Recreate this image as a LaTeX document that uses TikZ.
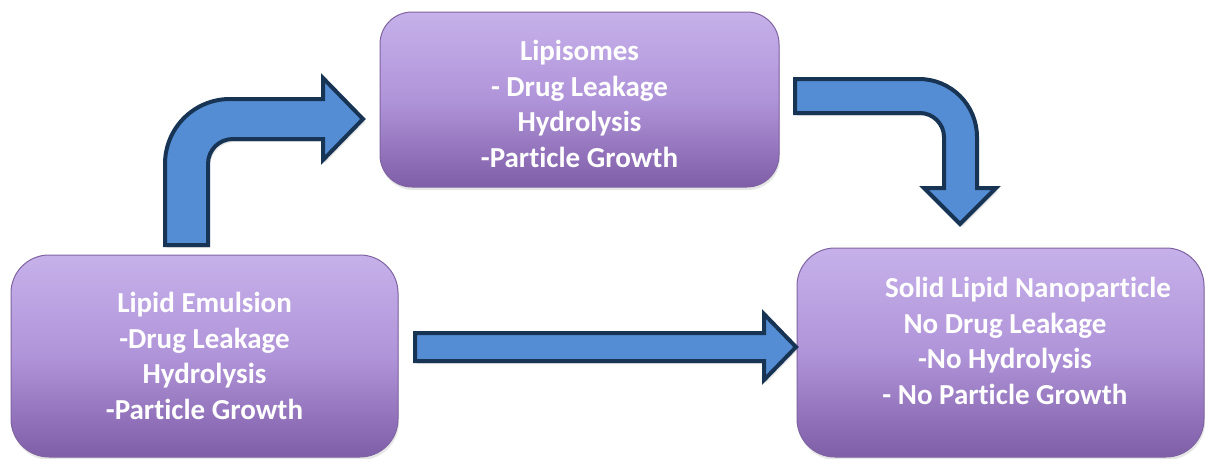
\documentclass[tikz,border=0pt]{standalone}
\usepackage{fontspec}
\setmainfont{Carlito}[Ligatures=NoCommon]
\usepackage{tikz}
\usepackage{xcolor}
\usetikzlibrary{shadows}

\definecolor{boxtop}{RGB}{198,177,234}
\definecolor{boxmid}{RGB}{176,148,217}
\definecolor{boxbot}{RGB}{127,94,168}
\definecolor{boxline}{RGB}{128,100,162}
\definecolor{arrowfill}{RGB}{84,141,212}
\definecolor{arrowline}{RGB}{24,52,84}

\begin{document}
\begin{tikzpicture}[x=1pt,y=-1pt]

\tikzset{
    box/.style = {
    draw=boxline,
    line width=1pt,
    top color=boxtop, bottom color=boxbot, middle color=boxmid,
    drop shadow={opacity=0.2, shadow xshift=1pt, shadow yshift=-3pt}
    }
}

\tikzstyle{boxtext}=[text=white, align=center, font=\bfseries\fontsize{29}{35.5}\selectfont]
\tikzstyle{wide}=[box, minimum width=387pt, minimum height=202pt, rounded corners=38pt]
\tikzstyle{narrow}=[box, minimum width=399pt, minimum height=175pt, rounded corners=32pt]
\tikzstyle{fatarrow}=[draw=arrowline, line width=4pt, fill=arrowfill,
    drop shadow={opacity=0.2, shadow xshift=2pt, shadow yshift=-3pt}]

\useasboundingbox (0,0) rectangle (1205,458);

\node (emulsion) [wide] at (204.5,356) {};
\node (liposome) [narrow] at (579.5,99.5) {};
\node (sln) [wide, minimum width=407pt, minimum height=209pt] at (1000.5,352.5) {};

\node (emulsion-text) [boxtext] at (204.5,356) {Lipid Emulsion\\-Drug Leakage\\Hydrolysis\\-Particle Growth};
\node (liposome-text) [boxtext] at (579.5,104) {Lipisomes\\- Drug Leakage\\Hydrolysis\\-Particle Growth};
\node (sln-text) [boxtext] at (1005,341) {\hspace*{46pt}Solid Lipid Nanoparticle\\No Drug Leakage\\-No Hydrolysis\\- No Particle Growth};

% emulsion -> liposomes
\draw[fatarrow] (165,245) -- (165,164) .. controls (165,128) and (194,99) .. (230,99)
    -- (323,99) -- (323,78) -- (363,119) -- (323,160) -- (323,139) -- (233,139)
    .. controls (219,139) and (208,150) .. (208,164) -- (208,245) -- cycle;

% liposomes -> solid lipid nanoparticle
\draw[fatarrow] (795,79) -- (919,79) .. controls (951,79) and (977,105) .. (977,137)
    -- (977,188) -- (996,188) -- (960,224) -- (924,188) -- (944,188) -- (944,137)
    .. controls (944,124) and (933,113) .. (920,113) -- (795,113) -- cycle;

% emulsion -> solid lipid nanoparticle
\draw[fatarrow] (415,333) -- (764,333) -- (764,314) -- (796,347) -- (764,380)
    -- (764,361) -- (415,361) -- cycle;

\end{tikzpicture}
\end{document}
